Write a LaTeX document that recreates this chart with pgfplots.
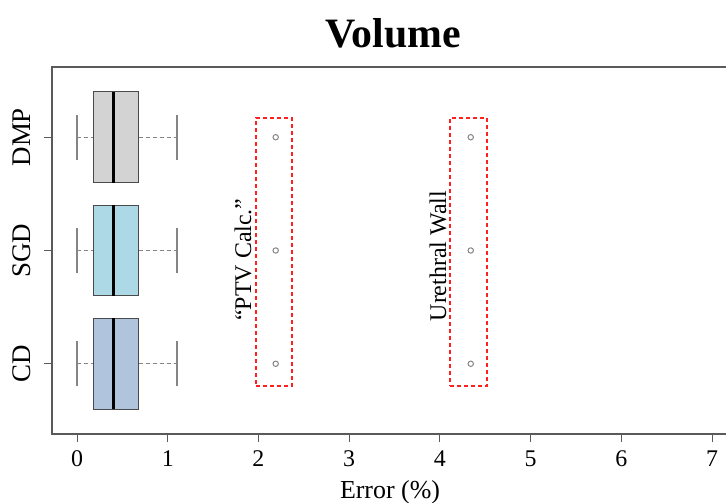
\documentclass[border=0pt]{standalone}
\usepackage{fontspec}
\setmainfont{Liberation Serif}
\usepackage{pgfplots}
\pgfplotsset{compat=1.18}
\usepgfplotslibrary{statistics}
\definecolor{frame}{HTML}{5A5A5A}
\definecolor{boxedge}{HTML}{4A4A4A}
\definecolor{whisk}{HTML}{858585}
\definecolor{dmpc}{HTML}{D3D3D3}
\definecolor{sgdc}{HTML}{ADD8E6}
\definecolor{cdc}{HTML}{B0C4DE}
\definecolor{rdash}{HTML}{FF2020}
\newcommand{\fs}[1]{\fontsize{#1}{#1}\selectfont}
\begin{document}
\begin{tikzpicture}
\fill[white] (-52bp,-69bp) rectangle (674bp,434bp);
\begin{axis}[
  at={(0,0)}, anchor=south west,
  scale only axis, width=676bp, height=367bp,
  xmin=-0.276, xmax=7.176, ymin=0.38, ymax=3.62,
  axis line style={draw=frame, line width=1.2bp},
  tick style={draw=frame, line width=1bp},
  tick align=outside, major tick length=8bp,
  xtick pos=bottom, ytick pos=left,
  xtick={0,1,2,3,4,5,6,7}, ytick={1,2,3}, yticklabels={CD,SGD,DMP},
  /pgf/number format/assume math mode=true,
  xticklabel style={font=\fs{24}, anchor=base, yshift=-24bp},
  yticklabel style={font=\fs{27}, rotate=90, anchor=base, yshift=13bp},
  xlabel={Error (\%)},
  xlabel style={font=\fs{26}, anchor=base, at={(axis description cs:0.5,0)}, yshift=-64bp},
  clip=false,
  boxplot/draw direction=x,
  boxplot/box extend=0.8,
  boxplot/whisker extend=0.4,
  boxplot/every median/.style={draw=black, line width=2.8bp},
  boxplot/every box/.style={draw=boxedge, line width=1.1bp},
  boxplot/draw/lower whisker/.code={
    \draw[draw=whisk, line width=1.1bp, dash pattern=on 4bp off 3bp] (boxplot box cs:\pgfplotsboxplotvalue{lower whisker},0.5) -- (boxplot box cs:\pgfplotsboxplotvalue{lower quartile},0.5);
    \draw[draw=whisk, line width=1.4bp, solid] (boxplot whisker cs:\pgfplotsboxplotvalue{lower whisker},0) -- (boxplot whisker cs:\pgfplotsboxplotvalue{lower whisker},1);
  },
  boxplot/draw/upper whisker/.code={
    \draw[draw=whisk, line width=1.1bp, dash pattern=on 4bp off 3bp] (boxplot box cs:\pgfplotsboxplotvalue{upper quartile},0.5) -- (boxplot box cs:\pgfplotsboxplotvalue{upper whisker},0.5);
    \draw[draw=whisk, line width=1.4bp, solid] (boxplot whisker cs:\pgfplotsboxplotvalue{upper whisker},0) -- (boxplot whisker cs:\pgfplotsboxplotvalue{upper whisker},1);
  },
]
% CD
\addplot[draw=boxedge, fill=cdc, boxplot prepared={lower whisker=0.0, lower quartile=0.18, median=0.40, upper quartile=0.68, upper whisker=1.10, draw position=1}, mark=o, mark size=2.7bp, mark options={draw=whisk, line width=1bp, solid, fill=none}]
  coordinates {(0,2.19) (0,4.34)};
% SGD
\addplot[draw=boxedge, fill=sgdc, boxplot prepared={lower whisker=0.0, lower quartile=0.18, median=0.40, upper quartile=0.68, upper whisker=1.10, draw position=2}, mark=o, mark size=2.7bp, mark options={draw=whisk, line width=1bp, solid, fill=none}]
  coordinates {(0,2.19) (0,4.34)};
% DMP
\addplot[draw=boxedge, fill=dmpc, boxplot prepared={lower whisker=0.0, lower quartile=0.18, median=0.40, upper quartile=0.68, upper whisker=1.10, draw position=3}, mark=o, mark size=2.7bp, mark options={draw=whisk, line width=1bp, solid, fill=none}]
  coordinates {(0,2.19) (0,4.34)};
% highlight frames
\addplot[draw=rdash, line width=2bp, dash pattern=on 4bp off 3bp, no markers] coordinates {(1.9729,0.8038) (2.3697,0.8038) (2.3697,3.1698) (1.9729,3.1698) (1.9729,0.8038)};
\addplot[draw=rdash, line width=2bp, dash pattern=on 4bp off 3bp, no markers] coordinates {(4.1114,0.8038) (4.5193,0.8038) (4.5193,3.1698) (4.1114,3.1698) (4.1114,0.8038)};
\node[rotate=90, font=\fs{24}] at (axis cs:1.83,1.92) {“PTV Calc.”};
\node[rotate=90, font=\fs{24}] at (axis cs:3.98,1.95) {Urethral Wall};
\end{axis}
\node[anchor=base, font=\bfseries\fs{42}] at ([xshift=3bp,yshift=19bp]current axis.north) {Volume};
\pgfresetboundingbox
\useasboundingbox (-52bp,-69bp) rectangle (674bp,434bp);
\end{tikzpicture}
\end{document}
